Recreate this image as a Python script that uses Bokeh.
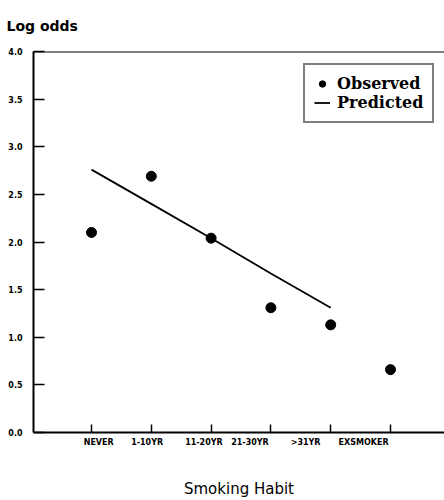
from bokeh.plotting import figure
from bokeh.models import (FixedTicker, PrintfTickFormatter, Range1d, Span, Legend,
                          LegendItem)
from bokeh.embed import file_html
from bokeh.resources import INLINE

categories = ["NEVER", "1-10YR", "11-20YR", "21-30YR", ">31YR", "EXSMOKER"]
observed = [2.10, 2.69, 2.04, 1.31, 1.13, 0.66]
predicted = [2.76, 2.40, 2.04, 1.67, 1.31]
y_ticks = [0.0, 0.5, 1.0, 1.5, 2.0, 2.5, 3.0, 3.5, 4.0]

# layout only: the scanned original prints its tick labels slightly off their ticks
label_shift = [0.12, -0.07, -0.12, -0.35, -0.42, -0.45]

xpos = list(range(1, len(categories) + 1))
label_pos = [x + s for x, s in zip(xpos, label_shift)]

p = figure(width=444, height=500, output_backend="svg", toolbar_location=None,
           x_range=Range1d(0.03, 6.903), y_range=Range1d(0, 4),
           min_border_left=33, min_border_right=0, min_border_top=51, min_border_bottom=68)
p.outline_line_color = None
p.xgrid.visible = False
p.ygrid.visible = False
p.background_fill_color = "white"
p.border_fill_color = "white"

# "Log odds" heading at the top left
p.title.text = "Log odds"
p.title.text_font = "DejaVu Sans"
p.title.text_font_size = "14px"
p.title.text_font_style = "bold"
p.title.text_color = "black"
p.title.align = "left"
p.title.offset = -27
p.title.vertical_align = "top"
p.title.standoff = 32

# top frame line
p.add_layout(Span(location=4.0, dimension="width", line_color="black", line_width=2))

r_obs = p.scatter(xpos, observed, size=10, color="black")
r_pred = p.line(xpos[:len(predicted)], predicted, line_width=1.8, color="black")

# x axis: tick marks at the categories (minor ticks), labels at label_pos
xa = p.xaxis[0]
xa.ticker = FixedTicker(ticks=label_pos, minor_ticks=xpos)
xa.major_label_overrides = {lp: c for lp, c in zip(label_pos, categories)}
xa.major_tick_line_color = None
xa.major_tick_in = 0
xa.major_tick_out = 0
xa.minor_tick_line_color = "black"
xa.minor_tick_line_width = 1.5
xa.minor_tick_in = 8
xa.minor_tick_out = 0
xa.axis_line_width = 2
xa.axis_line_color = "black"
xa.major_label_standoff = 5
xa.major_label_text_font = "DejaVu Sans"
xa.major_label_text_font_style = "bold"
xa.major_label_text_font_size = "8px"
xa.major_label_text_color = "black"
xa.axis_label = "Smoking Habit"
xa.axis_label_text_font = "DejaVu Sans"
xa.axis_label_text_font_style = "normal"
xa.axis_label_text_font_size = "15px"
xa.axis_label_text_color = "black"
xa.axis_label_standoff = 30

ya = p.yaxis[0]
ya.ticker = FixedTicker(ticks=y_ticks)
ya.formatter = PrintfTickFormatter(format="%.1f")
ya.major_tick_in = 11
ya.major_tick_out = 0
ya.minor_tick_line_color = None
ya.major_tick_line_width = 1.5
ya.major_tick_line_color = "black"
ya.axis_line_width = 2
ya.axis_line_color = "black"
ya.major_label_text_font = "DejaVu Sans"
ya.major_label_text_font_style = "bold"
ya.major_label_text_font_size = "8px"
ya.major_label_text_color = "black"
ya.major_label_standoff = 11

legend = Legend(items=[LegendItem(label="Observed", renderers=[r_obs]),
                       LegendItem(label="Predicted", renderers=[r_pred])],
                location=(270, 309))
legend.border_line_color = "black"
legend.border_line_width = 2
legend.background_fill_color = "white"
legend.background_fill_alpha = 1
legend.padding = 9
legend.spacing = 0
legend.margin = 0
legend.glyph_width = 16
legend.glyph_height = 17
legend.label_height = 17
legend.label_standoff = 7
legend.label_text_font = "DejaVu Serif"
legend.label_text_font_style = "bold"
legend.label_text_font_size = "16px"
legend.label_text_color = "black"
p.add_layout(legend)

open("out.html", "w").write(file_html(p, INLINE))
